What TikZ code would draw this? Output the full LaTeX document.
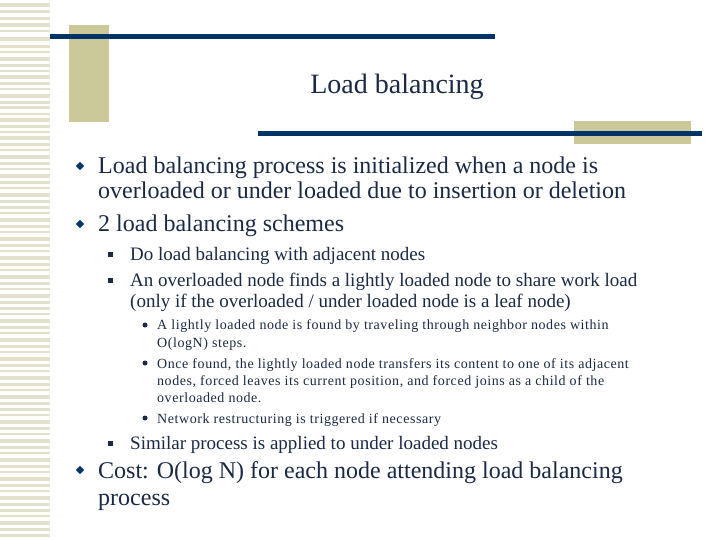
\documentclass[tikz,border=0pt]{standalone}
\usepackage{fontspec}
\usetikzlibrary{shapes.geometric}
\setmainfont{Liberation Serif}
\definecolor{navy}{HTML}{003366}
\definecolor{txt}{HTML}{1A2A44}
\definecolor{beige}{HTML}{CBC99A}
\definecolor{stripe}{HTML}{E3E1CC}
\begin{document}
\begin{tikzpicture}[x=1pt,y=-1pt,
  t1/.style={anchor=base west,inner sep=0,text=txt,font=\fontsize{24}{24}\selectfont},
  t2/.style={anchor=base west,inner sep=0,text=txt,font=\fontsize{19}{19}\selectfont},
  t3/.style={anchor=base west,inner sep=0,text=txt,font=\fontsize{14}{14}\selectfont\addfontfeature{LetterSpace=4}},
  b1/.style={fill=navy,shape=diamond,inner sep=0,minimum size=8.5pt},
  b2/.style={fill=txt,inner sep=0,minimum size=5pt},
  b3/.style={fill=txt,circle,inner sep=0,minimum size=5pt}]
\useasboundingbox (0,0) rectangle (720,540);
\fill[white] (0,0) rectangle (720,540);
% left stripes
\foreach \a/\h in {3/4,10/3,17/3,23/4,30/2,37/4,45/3,51/2,57/4,64/3,70/2,75/4,82/3,88/2,94/4,101/3,106/3,113/2,118/4,125/3,131/2,136/4,143/3,149/2,155/4,162/3,168/2,174/4,181/3,187/2,193/4,200/3,206/3,212/2,218/4,225/3,231/2,237/4,244/3,250/2,256/4,263/3,269/2,275/4,282/3,288/2,294/4,301/3,307/3,313/2,319/4,326/3,332/2,338/4,345/3,351/2,357/4,364/3,370/2,376/4,383/3,389/2,395/4,402/3,408/3,414/2,420/4,427/3,433/2,439/4,446/3,452/2,458/4,465/3,471/2,477/4,484/3,490/2,496/4,503/3,509/3,515/2,521/4,528/3,534/3}
  \fill[stripe] (0,\a) rectangle (50,\a+\h);
\fill[beige] (69,25) rectangle (109,122);
\fill[navy] (50,34) rectangle (495,39);
\fill[beige] (574,121) rectangle (691,144);
\fill[navy] (258,131) rectangle (702,136);
\node[anchor=base,inner sep=0,text=txt,font=\fontsize{28}{28}\selectfont] (title) at (397,94) {Load balancing};
\node[b1] (d1) at (80,166) {};
\node[t1] (l1) at (98,174) {Load balancing process is initialized when a node is};
\node[t1] (l2) at (98,199) {overloaded or under loaded due to insertion or deletion};
\node[b1] (d2) at (80,224) {};
\node[t1] (l3) at (98,232) {2 load balancing schemes};
\node[b2] (s1) at (110,254) {};
\node[t2] (m1) at (130,260) {Do load balancing with adjacent nodes};
\node[b2] (s2) at (110,280) {};
\node[t2] (m2) at (130,286) {An overloaded node finds a lightly loaded node to share work load};
\node[t2] (m3) at (130,307) {(only if the overloaded / under loaded node is a leaf node)};
\node[b3] (c1) at (145,325) {};
\node[t3] (n1) at (157,329) {A lightly loaded node is found by traveling through neighbor nodes within};
\node[t3] (n2) at (157,347) {O(logN) steps.};
\node[b3] (c2) at (145,363) {};
\node[t3] (n3) at (157,368) {Once found, the lightly loaded node transfers its content to one of its adjacent};
\node[t3] (n4) at (157,385) {nodes, forced leaves its current position, and forced joins as a child of the};
\node[t3] (n5) at (157,402) {overloaded node.};
\node[b3] (c3) at (145,418) {};
\node[t3] (n6) at (157,423) {Network restructuring is triggered if necessary};
\node[b2] (s3) at (110,443) {};
\node[t2] (m4) at (130,449) {Similar process is applied to under loaded nodes};
\node[b1] (d3) at (80,470) {};
\node[t1] (l4) at (98,478) {Cost: O(log N) for each node attending load balancing};
\node[t1] (l5) at (98,505) {process};
\end{tikzpicture}
\end{document}
